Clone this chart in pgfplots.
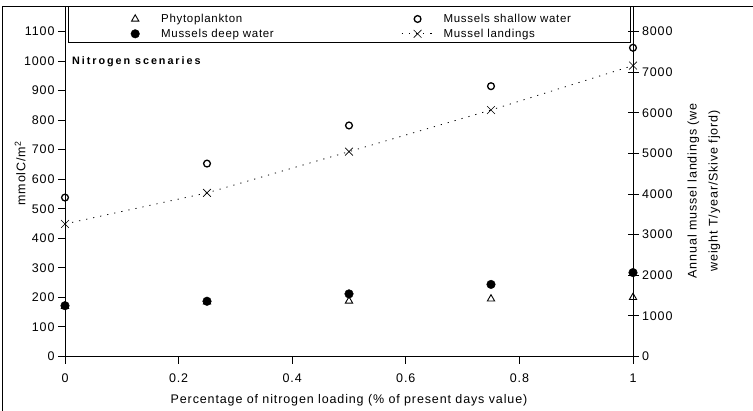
\documentclass[border=0pt]{standalone}
\usepackage{pgfplots}
\pgfplotsset{compat=1.18}
\usepackage{fontspec}
\setmainfont{Liberation Sans}
\newfontfamily\spfont[LetterSpace=7]{Liberation Sans}
\newfontfamily\legfont[LetterSpace=6]{Liberation Sans}
\newfontfamily\wideboldfont[LetterSpace=18]{Liberation Sans Bold}
\pgfplotstableread{
x phyto deep shallow landings
0    170 172 538 3265
0.25 185 187 653 4030
0.5  188 212 782 5045
0.75 195 244 915 6070
1    200 284 1045 7165
}\datatable
\begin{document}
\begin{tikzpicture}
\useasboundingbox (-65bp,-54.5bp) rectangle (688bp,356.5bp);
\pgfplotsset{
  common/.style={
    scale only axis, width=568bp, height=349.5bp,
    xmin=0, xmax=1, clip=false,
    axis line style={line width=1bp, black},
    every tick/.style={line width=1bp, black},
    tick label style={font=\spfont\fontsize{12.5bp}{14bp}\selectfont},
    label style={font=\spfont\fontsize{12.5bp}{14bp}\selectfont},
    /pgf/number format/assume math mode=true,
    /pgf/number format/1000 sep={},
  },
  tri/.style={only marks, mark=triangle*, mark size=4.2bp, mark options={fill=white, draw=black, line width=0.9bp}},
  deep/.style={only marks, mark=*, mark size=4.3bp, mark options={fill=black, draw=black}},
  shallow/.style={only marks, mark=o, mark size=3.4bp, mark options={draw=black, line width=1.3bp}},
  land/.style={black, line width=0.8bp, dash pattern=on 1.2bp off 6bp, mark=x, mark size=5.5bp, mark options={solid, line width=0.6bp}},
}
\begin{axis}[common,
  ymin=0, ymax=1183,
  axis y line*=left, axis x line*=bottom,
  xtick={0,0.2,0.4,0.6,0.8,1},
  ytick={0,100,...,1100},
  tick align=outside, major tick length=7bp,
  xticklabel style={yshift=-7bp},
  xlabel={Percentage of nitrogen loading (\% of present days value)},
  xlabel style={at={(axis description cs:0.5,-0.1245)}, anchor=center},
  ylabel={mmolC/m\textsuperscript{2}},
  ylabel style={at={(axis description cs:-0.079,0.524)}, anchor=center},
]
\addplot[tri] table[x=x,y=phyto]{\datatable};
\addplot[shallow] table[x=x,y=shallow]{\datatable};
\addplot[deep] table[x=x,y=deep]{\datatable};
\node[anchor=west, inner sep=0pt, font=\wideboldfont\fontsize{10.8bp}{13bp}\selectfont] at (axis description cs:0.0123,0.843) {Nitrogen scenaries};
\end{axis}
\begin{axis}[common,
  ymin=0, ymax=8608,
  axis y line*=right, axis x line=none,
  ytick={0,1000,...,8000},
  tick align=center, major tick length=11bp,
  ylabel={Annual mussel landings (we\\weight T/year/Skive fjord)},
  ylabel style={at={(axis description cs:1.125,0.474)}, anchor=center, align=center,
    font=\spfont\fontsize{12.5bp}{21bp}\selectfont},
  legend columns=2,
  legend style={at={(axis description cs:0.0951,0.986)}, anchor=north west, draw=none, fill=none,
    inner xsep=0pt, inner ysep=0pt, row sep=1bp,
    font=\legfont\fontsize{11.5bp}{13bp}\selectfont},
  legend cell align=left,
  legend image code/.code={\path[draw=none] (0bp,0bp) -- (40bp,0bp); \draw[mark repeat=2, mark phase=2, #1] plot coordinates {(0bp,0bp) (16bp,0bp) (32bp,0bp)};},
]
\addlegendimage{tri}
\addlegendentry{\makebox[238bp][l]{Phytoplankton}}
\addlegendimage{shallow}
\addlegendentry{Mussels shallow water}
\addlegendimage{deep}
\addlegendentry{\makebox[238bp][l]{Mussels deep water}}
\addplot[land] table[x=x,y=landings]{\datatable};
\addlegendentry{Mussel landings}
\end{axis}
\draw[line width=1bp] (3bp,349.5bp) -- (3bp,313.5bp) -- (565bp,313.5bp) -- (565bp,349.5bp);
\draw[line width=1bp] (-62bp,-54.5bp) -- (-62bp,349.5bp) -- (688bp,349.5bp);
\end{tikzpicture}
\end{document}
